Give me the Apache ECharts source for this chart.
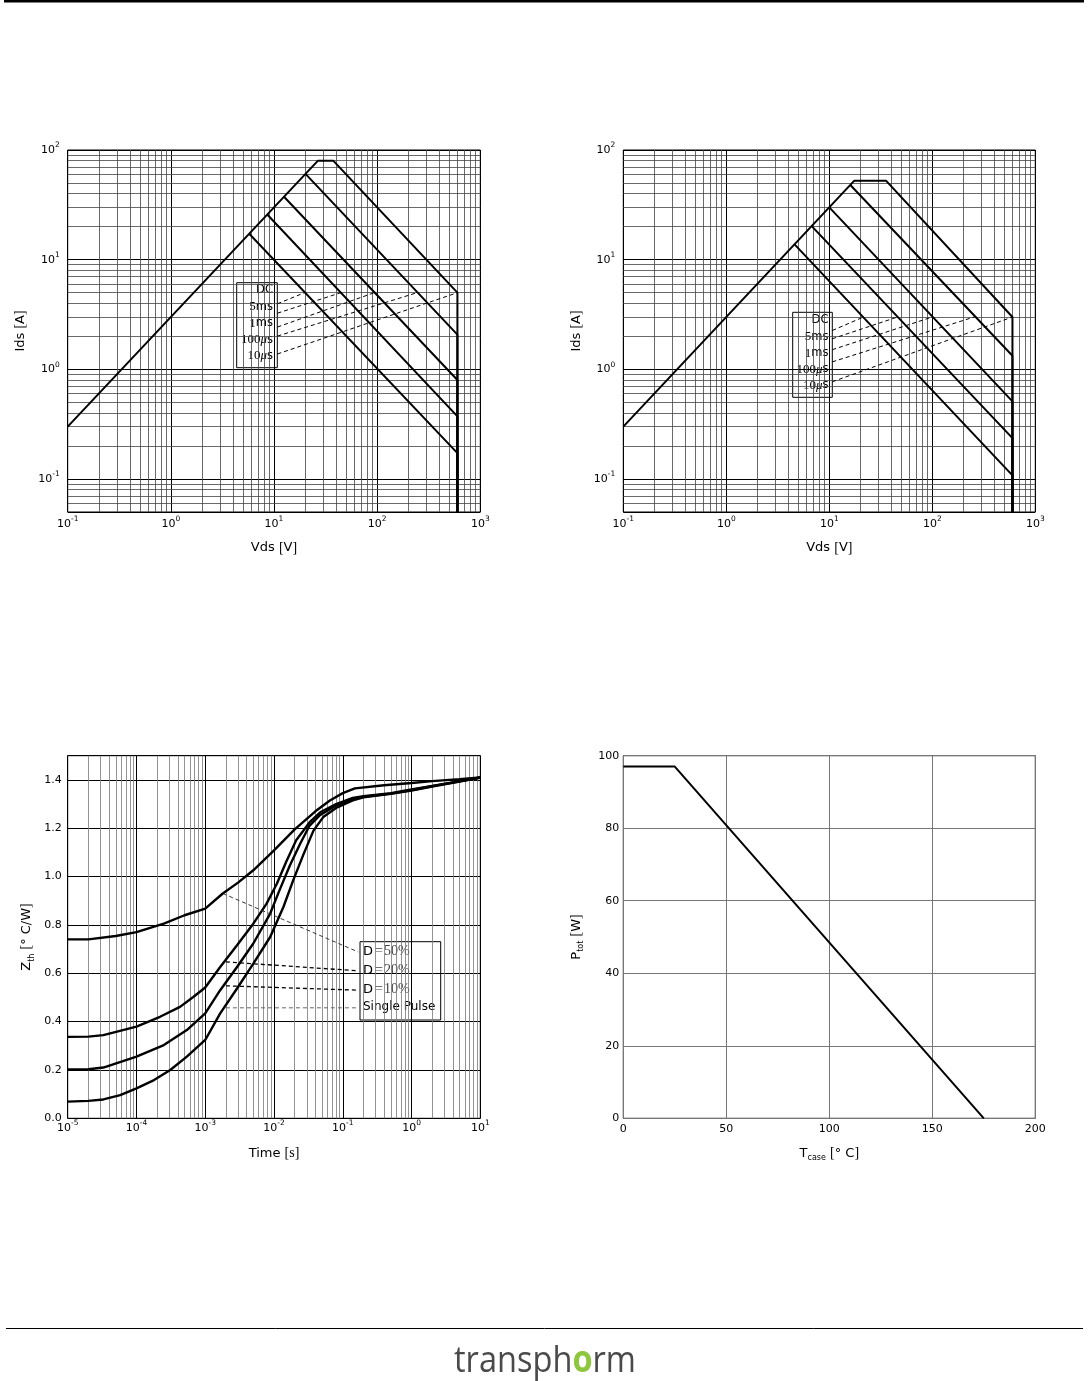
<!DOCTYPE html>
<html>
<head>
<meta charset="utf-8">
<title>Transphorm characteristics</title>
<script src="https://cdn.jsdelivr.net/npm/echarts@6.0.0/dist/echarts.min.js"></script>
<style>
html,body{margin:0;padding:0;background:#fff;}
#chart{width:1088px;height:1381px;}
</style>
</head>
<body>
<div id="chart"></div>
<script>
// ---------------- DATA ----------------
// Safe operating area, left panel: [Vds (V), Ids (A)]
const soaLeftDC    = [[5.75, 17.25], [600, 0.172], [600, 0.05]];
const soaLeft5ms   = [[8.6, 25.8], [600, 0.372], [600, 0.05]];
const soaLeft1ms   = [[12.5, 37.5], [600, 0.80], [600, 0.05]];
const soaLeft100us = [[20.2, 60.6], [600, 2.07], [600, 0.05]];
const soaLeft10us  = [[0.1, 0.3], [26.7, 80], [37.5, 80], [600, 5], [600, 0.05]];
const soaLeftLeadFrom = [[10.8, 3.96], [10.8, 3.25], [10.8, 2.43], [10.8, 2.01], [10.8, 1.38]];
const soaLeftLeadTo   = [[19.8, 5], [44.5, 5], [94, 5], [244, 5], [600, 5]];

// Safe operating area, right panel
const soaRightDC    = [[4.6, 13.8], [600, 0.108], [600, 0.05]];
const soaRight5ms   = [[6.75, 20.2], [600, 0.236], [600, 0.05]];
const soaRight1ms   = [[10, 30], [600, 0.51], [600, 0.05]];
const soaRight100us = [[16, 48], [600, 1.33], [600, 0.05]];
const soaRight10us  = [[0.1, 0.3], [17.5, 52.5], [35.5, 52.5], [600, 3], [600, 0.05]];
const soaRightLeadFrom = [[10.7, 2.26], [10.7, 1.90], [10.7, 1.51], [10.7, 1.17], [10.7, 0.77]];
const soaRightLeadTo   = [[21.5, 3], [46, 3], [100, 3], [255, 3], [600, 3]];

const soaLabels = ['DC', '5ms', '1ms', '100µs', '10µs'];

// Transient thermal impedance: [time (s), Zth (°C/W)]
const zthD50 = [[1e-5,0.74],[2e-5,0.74],[5e-5,0.754],[1e-4,0.77],[2.5e-4,0.805],[5e-4,0.84],[1e-3,0.867],[1.8e-3,0.93],[3e-3,0.975],[5e-3,1.026],[1e-2,1.108],[2e-2,1.195],[4e-2,1.27],[6.5e-2,1.315],[0.1,1.345],[0.15,1.365],[0.4,1.378],[1,1.387],[2,1.395],[5,1.403],[10,1.41]];
const zthD20 = [[1e-5,0.337],[2e-5,0.338],[3.3e-5,0.344],[1e-4,0.379],[2.2e-4,0.42],[4.3e-4,0.461],[6.7e-4,0.502],[1e-3,0.541],[1.65e-3,0.626],[2.9e-3,0.716],[5e-3,0.805],[7.8e-3,0.888],[1.1e-2,0.97],[1.5e-2,1.06],[2.1e-2,1.15],[3.3e-2,1.225],[4.7e-2,1.266],[8e-2,1.30],[0.14,1.325],[0.2,1.333],[0.5,1.345],[1,1.36],[2,1.375],[5,1.395],[10,1.41]];
const zthD10 = [[1e-5,0.202],[2e-5,0.203],[3.3e-5,0.21],[1e-4,0.255],[2.5e-4,0.303],[5.4e-4,0.365],[1e-3,0.434],[1.65e-3,0.53],[2.9e-3,0.626],[5e-3,0.723],[8.8e-3,0.847],[1.2e-2,0.943],[1.7e-2,1.046],[2.4e-2,1.136],[3.3e-2,1.211],[4.7e-2,1.255],[8e-2,1.294],[0.14,1.32],[0.2,1.33],[0.5,1.343],[1,1.358],[2,1.374],[5,1.394],[10,1.41]];
const zthSingle = [[1e-5,0.069],[2e-5,0.072],[3.3e-5,0.078],[5.8e-5,0.096],[1e-4,0.124],[1.8e-4,0.158],[3.1e-4,0.2],[5.4e-4,0.255],[1e-3,0.324],[1.65e-3,0.434],[2.9e-3,0.537],[5e-3,0.64],[8.8e-3,0.75],[1.37e-2,0.874],[1.9e-2,0.984],[2.7e-2,1.094],[3.75e-2,1.19],[5.2e-2,1.246],[8e-2,1.284],[0.14,1.315],[0.2,1.328],[0.5,1.342],[1,1.356],[2,1.372],[5,1.393],[10,1.41]];
const zthLeadFrom = [[1.8e-3, 0.93], [2e-3, 0.647], [2e-3, 0.548], [2e-3, 0.457]];
const zthLeadTo   = [[0.168, 0.688], [0.168, 0.61], [0.168, 0.53], [0.168, 0.457]];
const zthLabels = ['D=50%', 'D=20%', 'D=10%', 'Single Pulse'];

// Power derating: Tcase (°C) vs Ptot (W)
const ptotTemp  = [0, 25, 175];
const ptotPower = [97, 97, 0];

// Axis ticks
const soaDecadesX = [0.1, 1, 10, 100];
const soaDecadesY = [0.01, 0.1, 1, 10];
const zthDecadesX = [1e-5, 1e-4, 1e-3, 1e-2, 0.1, 1];
const minorSteps = [2, 3, 4, 5, 6, 7, 8, 9];
const zthYTicks = [0, 0.2, 0.4, 0.6, 0.8, 1.0, 1.2, 1.4];
const ptotXTicks = [0, 50, 100, 150, 200];
const ptotYTicks = [0, 20, 40, 60, 80, 100];

// ---------------- CHART ----------------
const FONT = 'DejaVu Sans';
const SERIF = 'Liberation Serif';

function minors(decades, lo, hi) {
  const out = [];
  decades.forEach(d => minorSteps.forEach(k => { const v = d * k; if (v > lo * 1.0001 && v < hi * 0.9999) out.push(v); }));
  return out;
}
function logLabel(v) {
  const e = Math.log10(v), r = Math.round(e);
  if (Math.abs(e - r) > 1e-6) return '';
  return '{b|10}{s|' + r + '}';
}
const logRich = {
  b: {fontFamily: FONT, fontSize: 11, color: '#000', lineHeight: 14, verticalAlign: 'bottom'},
  s: {fontFamily: FONT, fontSize: 7.5, color: '#000', lineHeight: 14, verticalAlign: 'top'}
};
const nameRich = {
  a: {fontFamily: FONT, fontSize: 13, color: '#000', lineHeight: 18, verticalAlign: 'middle'},
  br: {fontFamily: SERIF, fontSize: 14, color: '#000', lineHeight: 18, verticalAlign: 'middle'},
  sub: {fontFamily: FONT, fontSize: 8, color: '#000', lineHeight: 18, verticalAlign: 'bottom'}
};
function nameStyle() { return {rich: nameRich}; }

const gridBase = {show: true, borderColor: '#000', borderWidth: 1, backgroundColor: 'transparent', containLabel: false, outerBoundsMode: 'none'};
const grids = [
  Object.assign({left: 67.7, top: 150, width: 412.6, height: 362}, gridBase),
  Object.assign({left: 623.3, top: 150, width: 412, height: 362}, gridBase),
  Object.assign({left: 67.7, top: 755.7, width: 412.6, height: 362.6}, gridBase),
  Object.assign({left: 623.3, top: 755.7, width: 412, height: 362.6}, gridBase)
];

function soaX(gi) {
  return {
    gridIndex: gi, type: 'log', logBase: 10, min: 0.1, max: 1000,
    axisLine: {show: false}, axisTick: {show: false},
    axisLabel: {formatter: logLabel, rich: logRich, margin: 3.5, hideOverlap: false},
    splitLine: {show: true, lineStyle: {color: '#000', width: 1}},
    name: '{a|Vds }{br|[}{a|V}{br|]}', nameLocation: 'middle', nameGap: 27, nameTextStyle: nameStyle()
  };
}
function soaY(gi) {
  return {
    gridIndex: gi, type: 'log', logBase: 10, min: 0.05, max: 100,
    axisLine: {show: false}, axisTick: {show: false},
    axisLabel: {formatter: logLabel, rich: logRich, margin: 8, padding: [0, 0, 3, 0], hideOverlap: false},
    splitLine: {show: true, lineStyle: {color: '#000', width: 1}},
    name: '{a|Ids }{br|[}{a|A}{br|]}', nameLocation: 'middle', nameGap: 38, nameTextStyle: nameStyle()
  };
}

const xAxes = [
  soaX(0), soaX(1),
  {
    gridIndex: 2, type: 'log', logBase: 10, min: 1e-5, max: 10,
    axisLine: {show: false}, axisTick: {show: false},
    axisLabel: {formatter: logLabel, rich: logRich, margin: 1, hideOverlap: false},
    splitLine: {show: true, lineStyle: {color: '#000', width: 1}},
    name: '{a|Time }{br|[s]}', nameLocation: 'middle', nameGap: 26, nameTextStyle: nameStyle()
  },
  {
    gridIndex: 3, type: 'value', min: ptotXTicks[0], max: ptotXTicks[ptotXTicks.length - 1], interval: ptotXTicks[1] - ptotXTicks[0],
    axisLine: {show: false}, axisTick: {show: false},
    axisLabel: {fontFamily: FONT, fontSize: 11, color: '#000', margin: 5},
    splitLine: {show: true, lineStyle: {color: '#777', width: 1}},
    name: '{a|T}{sub|case}{a| }{br|[}{a|° C}{br|]}', nameLocation: 'middle', nameGap: 26, nameTextStyle: nameStyle()
  }
];
const yAxes = [
  soaY(0), soaY(1),
  {
    gridIndex: 2, type: 'value', min: 0, max: 1.5, interval: zthYTicks[1] - zthYTicks[0],
    axisLine: {show: false}, axisTick: {show: false},
    axisLabel: {fontFamily: FONT, fontSize: 11, color: '#000', margin: 6, showMaxLabel: false,
      formatter: v => (zthYTicks.some(t => Math.abs(t - v) < 1e-9) ? v.toFixed(1) : '')},
    splitLine: {show: true, lineStyle: {color: '#000', width: 1}},
    name: '{a|Z}{sub|th}{a| }{br|[}{a|° C/W}{br|]}', nameLocation: 'middle', nameGap: 32, nameTextStyle: nameStyle()
  },
  {
    gridIndex: 3, type: 'value', min: ptotYTicks[0], max: ptotYTicks[ptotYTicks.length - 1], interval: ptotYTicks[1] - ptotYTicks[0],
    axisLine: {show: false}, axisTick: {show: false},
    axisLabel: {fontFamily: FONT, fontSize: 11, color: '#000', margin: 4},
    splitLine: {show: true, lineStyle: {color: '#777', width: 1}},
    name: '{a|P}{sub|tot}{a| }{br|[}{a|W}{br|]}', nameLocation: 'middle', nameGap: 38, nameTextStyle: nameStyle()
  }
];

function gridLines(gi, xs, ys, color, width) {
  return {
    type: 'line', xAxisIndex: gi, yAxisIndex: gi, data: [], silent: true, z: 1,
    markLine: {
      silent: true, z: 1, precision: 12, symbol: ['none', 'none'], animation: false,
      label: {show: false}, emphasis: {disabled: true},
      lineStyle: {color: color, width: width, type: 'solid'},
      data: xs.map(v => ({xAxis: v})).concat(ys.map(v => ({yAxis: v})))
    }
  };
}
function curve(gi, data, width) {
  return {type: 'line', xAxisIndex: gi, yAxisIndex: gi, data: data, symbol: 'none', silent: true, z: 3,
    lineStyle: {color: '#000', width: width || 2}, emphasis: {disabled: true}};
}
function lead(gi, from, to, color, width) {
  return {type: 'line', xAxisIndex: gi, yAxisIndex: gi, data: [from, to], symbol: 'none', silent: true, z: 4,
    lineStyle: {color: color || '#000', width: width || 1, type: [4, 3]}, emphasis: {disabled: true}};
}

const series = [];
series.push(gridLines(0, minors(soaDecadesX, 0.1, 1000), minors(soaDecadesY, 0.05, 100), '#444', 0.8));
series.push(gridLines(1, minors(soaDecadesX, 0.1, 1000), minors(soaDecadesY, 0.05, 100), '#444', 0.8));
series.push(gridLines(2, minors(zthDecadesX, 1e-5, 10), [], '#777', 0.8));

[soaLeftDC, soaLeft5ms, soaLeft1ms, soaLeft100us, soaLeft10us].forEach(d => series.push(curve(0, d, 2)));
[soaRightDC, soaRight5ms, soaRight1ms, soaRight100us, soaRight10us].forEach(d => series.push(curve(1, d, 2)));
soaLeftLeadFrom.forEach((p, i) => series.push(lead(0, p, soaLeftLeadTo[i])));
soaRightLeadFrom.forEach((p, i) => series.push(lead(1, p, soaRightLeadTo[i])));

[zthD50, zthD20, zthD10, zthSingle].forEach(d => series.push(curve(2, d, 2.4)));
const zthLeadColors = ['#222', '#000', '#000', '#555'];
const zthLeadWidths = [0.9, 1.3, 1.3, 0.9];
zthLeadFrom.forEach((p, i) => series.push(lead(2, p, zthLeadTo[i], zthLeadColors[i], zthLeadWidths[i])));

series.push(curve(3, ptotTemp.map((t, i) => [t, ptotPower[i]]), 2));

// ---- annotation boxes ----
function soaLabelRich(l) {
  const m = l.match(/^(\d*)(µ?)(.*)$/);
  let s = '';
  if (m[1]) s += '{n|' + m[1] + '}';
  if (m[2]) s += '{u|μ}';
  if (m[3]) s += '{t|' + m[3] + '}';
  return s;
}
const soaBoxRich = {
  n: {fontFamily: SERIF, fontSize: 13, fill: '#000'},
  u: {fontFamily: SERIF, fontStyle: 'italic', fontSize: 13, fill: '#000'},
  t: {fontFamily: FONT, fontSize: 11.5, fill: '#000'}
};
function soaBox(x, y, w, h, textRight, rows) {
  const children = [{type: 'rect', shape: {x: x, y: y, width: w, height: h}, style: {fill: '#fff', stroke: '#000', lineWidth: 1}}];
  soaLabels.forEach((l, i) => {
    children.push({type: 'text', x: textRight, y: rows[i], style: {text: soaLabelRich(l), rich: soaBoxRich, align: 'right', verticalAlign: 'middle', fill: '#000'}});
  });
  return {type: 'group', z: 10, children: children};
}
const zthBoxRich = {
  d: {fontFamily: FONT, fontSize: 13, fill: '#000'},
  q: {fontFamily: SERIF, fontSize: 14, fill: '#444', padding: [0, 0, 0, 2]},
  e: {fontFamily: SERIF, fontSize: 14, fill: '#444', padding: [0, 0, 0, 1]},
  p: {fontFamily: FONT, fontSize: 12, fill: '#000'}
};
function zthLabelRich(l) {
  const m = l.match(/^D=(.*)$/);
  return m ? '{d|D}{q|=}{e|' + m[1] + '}' : '{p|' + l + '}';
}
const zthBoxChildren = [{type: 'rect', shape: {x: 360, y: 941.7, width: 80.7, height: 78.3}, style: {fill: '#fff', stroke: '#000', lineWidth: 1}}];
const zthRows = [951.7, 970.7, 989.3, 1007];
zthLabels.forEach((l, i) => zthBoxChildren.push({type: 'text', x: 363, y: zthRows[i], style: {text: zthLabelRich(l), rich: zthBoxRich, align: 'left', verticalAlign: 'middle'}}));

const graphic = [
  {type: 'rect', z: 20, shape: {x: 4, y: 0, width: 1080, height: 2.5}, style: {fill: '#000'}},
  {type: 'line', z: 20, shape: {x1: 6, y1: 1328.5, x2: 1083, y2: 1328.5}, style: {stroke: '#000', lineWidth: 1}},
  soaBox(236.7, 282.7, 40.6, 85, 273, [290.5, 307, 323.5, 340, 356]),
  soaBox(792.7, 312.3, 39.6, 85, 828.5, [320.5, 337, 353.5, 369.5, 385.5]),
  {type: 'group', z: 10, children: zthBoxChildren},
  {type: 'text', z: 20, x: 545, y: 1380, scaleX: 0.88,
    style: {text: '{a|transph}{g|o}{a|rm}', align: 'center', verticalAlign: 'bottom',
      rich: {a: {fontFamily: 'Open Sans', fontSize: 37, fill: '#4a4a4a'}, g: {fontFamily: 'Open Sans', fontSize: 37, fontWeight: 'bold', fill: '#8dc63f'}}}}
];

const chart = echarts.init(document.getElementById('chart'), null, {renderer: 'canvas'});
chart.setOption({
  animation: false,
  backgroundColor: '#fff',
  textStyle: {fontFamily: FONT},
  grid: grids,
  xAxis: xAxes,
  yAxis: yAxes,
  series: series,
  graphic: graphic
});
</script>
</body>
</html>
